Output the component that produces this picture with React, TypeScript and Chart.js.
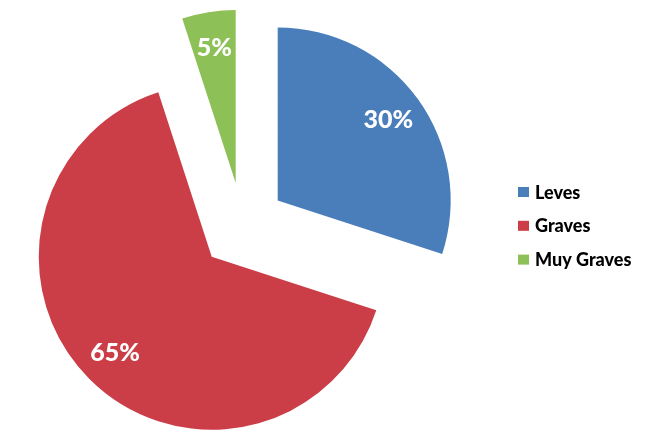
import React, { useEffect, useRef } from "react";
import { Chart, registerables } from "chart.js";

Chart.register(...registerables);

const categories = ["Leves", "Graves", "Muy Graves"];
const values = [30, 65, 5];
const valueLabels = ["30%", "65%", "5%"];
const colors = ["#4A7EBB", "#CB3D47", "#8DC056"];

const EXPLODE = 43.5;
const LABEL_FRACTION = 0.79;

const explodePlugin = {
  id: "explodeSlices",
  beforeDatasetDraw(chart: any, args: any) {
    const meta = args.meta;
    meta.data.forEach((arc: any) => {
      if (arc.__exploded) return;
      const orig = arc.draw.bind(arc);
      arc.draw = (ctx: CanvasRenderingContext2D, area: any) => {
        const mid = (arc.startAngle + arc.endAngle) / 2;
        ctx.save();
        ctx.translate(Math.cos(mid) * EXPLODE, Math.sin(mid) * EXPLODE);
        orig(ctx, area);
        ctx.restore();
      };
      arc.__exploded = true;
    });
  },
  afterDatasetsDraw(chart: any) {
    const ctx: CanvasRenderingContext2D = chart.ctx;
    const meta = chart.getDatasetMeta(0);
    ctx.save();
    ctx.fillStyle = "#FFFFFF";
    ctx.font = "900 25px Lato";
    ctx.textAlign = "center";
    ctx.textBaseline = "middle";
    meta.data.forEach((arc: any, i: number) => {
      const mid = (arc.startAngle + arc.endAngle) / 2;
      const d = EXPLODE + arc.outerRadius * LABEL_FRACTION;
      ctx.fillText(valueLabels[i], arc.x + Math.cos(mid) * d, arc.y + Math.sin(mid) * d);
    });
    // legend
    ctx.textAlign = "left";
    ctx.textBaseline = "alphabetic";
    ctx.font = "900 18px Lato";
    const lx = 518;
    const ly0 = 192;
    const step = 33.8;
    categories.forEach((c, i) => {
      const cy = ly0 + i * step;
      ctx.fillStyle = colors[i];
      ctx.fillRect(lx, cy - 5, 11, 10);
      ctx.fillStyle = "#000000";
      ctx.fillText(c, lx + 17, cy + 6.5);
    });
    ctx.restore();
  },
};

export default function App() {
  const ref = useRef<HTMLCanvasElement>(null);
  useEffect(() => {
    if (!ref.current) return;
    const chart = new Chart(ref.current, {
      type: "pie",
      data: {
        labels: categories,
        datasets: [
          {
            data: values,
            backgroundColor: colors,
            borderWidth: 0,
            radius: 173,
          } as any,
        ],
      },
      options: {
        animation: false,
        responsive: false,
        devicePixelRatio: 1,
        layout: { padding: { left: 0, right: 166, top: 11, bottom: 0 } },
        plugins: {
          legend: { display: false },
          tooltip: { enabled: false },
        },
      },
      plugins: [explodePlugin],
    });
    return () => chart.destroy();
  }, []);
  return (
    <div style={{ position: "absolute", left: 0, top: 0, width: 651, height: 441, background: "#fff" }}>
      <canvas ref={ref} width={651} height={441} style={{ width: 651, height: 441 }} />
    </div>
  );
}
